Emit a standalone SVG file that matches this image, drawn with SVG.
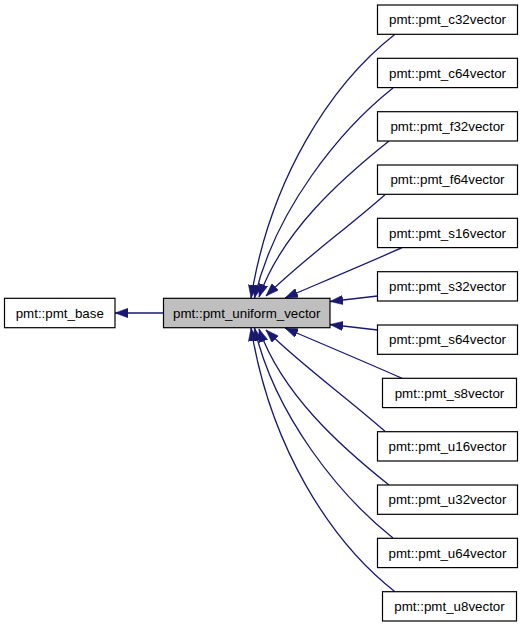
<svg xmlns="http://www.w3.org/2000/svg" width="523" height="627" viewBox="0 0 523 627">
<style>
.box{fill:#ffffff;stroke:#000000;stroke-width:1.2}
.cur{fill:#bfbfbf;stroke:#000000;stroke-width:1.2}
.lbl{font-family:"Liberation Sans",Arial,sans-serif;font-size:13.33px;fill:#000000;text-anchor:middle}
.edge{fill:none;stroke:#191970;stroke-width:1.3;marker-end:url(#arr)}
</style>
<defs>
<marker id="arr" markerUnits="userSpaceOnUse" viewBox="0 0 13 9.4" markerWidth="13" markerHeight="9.4" refX="13" refY="4.7" orient="auto">
<path d="M0,0 L13,4.7 L0,9.4 Z" fill="#191970" stroke="#191970" stroke-width="0.5"/>
</marker>
</defs>
<rect width="523" height="627" fill="#ffffff"/>
<g id="edges">
<path class="edge" d="M163.5,313 L115,313"/>
<path class="edge" d="M395,34.3 C330,85 270,180 251,298"/>
<path class="edge" d="M393,88 C340,130 275,210 254.5,298"/>
<path class="edge" d="M389,141 C340,180 282,232 259,297"/>
<path class="edge" d="M385,194.7 C345,230 300,262 266,296"/>
<path class="edge" d="M402,247.7 C370,262 320,283 285,298"/>
<path class="edge" d="M377.5,296 L330,301.5"/>
<path class="edge" d="M377.5,330 L330,324.5"/>
<path class="edge" d="M402,378.3 C370,364 320,343 285,328"/>
<path class="edge" d="M385,431.3 C345,396 300,364 266,330"/>
<path class="edge" d="M389,485 C340,446 282,394 259,329"/>
<path class="edge" d="M393,538 C340,496 275,416 254.5,328"/>
<path class="edge" d="M395,591.7 C330,541 270,446 251,328"/>
</g>
<g id="pmt_base"><rect class="box" x="4.5" y="298.3" width="110.5" height="29.4"/><text class="lbl" x="59.75" y="317.7">pmt::pmt_base</text></g>
<g id="pmt_uniform_vector"><rect class="cur" x="163.5" y="298.3" width="166.5" height="29.4"/><text class="lbl" x="246.75" y="317.7">pmt::pmt_uniform_vector</text></g>
<g id="pmt_c32vector"><rect class="box" x="377.5" y="5" width="140" height="29.3"/><text class="lbl" x="447.5" y="24.4">pmt::pmt_c32vector</text></g>
<g id="pmt_c64vector"><rect class="box" x="377.5" y="58.3" width="140" height="29.3"/><text class="lbl" x="447.5" y="77.7">pmt::pmt_c64vector</text></g>
<g id="pmt_f32vector"><rect class="box" x="377.5" y="111.7" width="140" height="29.3"/><text class="lbl" x="447.5" y="131.1">pmt::pmt_f32vector</text></g>
<g id="pmt_f64vector"><rect class="box" x="377.5" y="165" width="140" height="29.3"/><text class="lbl" x="447.5" y="184.4">pmt::pmt_f64vector</text></g>
<g id="pmt_s16vector"><rect class="box" x="377.5" y="218.3" width="140" height="29.3"/><text class="lbl" x="447.5" y="237.7">pmt::pmt_s16vector</text></g>
<g id="pmt_s32vector"><rect class="box" x="377.5" y="271.7" width="140" height="29.3"/><text class="lbl" x="447.5" y="291.1">pmt::pmt_s32vector</text></g>
<g id="pmt_s64vector"><rect class="box" x="377.5" y="325" width="140" height="29.3"/><text class="lbl" x="447.5" y="344.4">pmt::pmt_s64vector</text></g>
<g id="pmt_s8vector"><rect class="box" x="382.5" y="378.3" width="134" height="29.3"/><text class="lbl" x="449.5" y="397.7">pmt::pmt_s8vector</text></g>
<g id="pmt_u16vector"><rect class="box" x="377.5" y="431.7" width="140" height="29.3"/><text class="lbl" x="447.5" y="451.1">pmt::pmt_u16vector</text></g>
<g id="pmt_u32vector"><rect class="box" x="377.5" y="485" width="140" height="29.3"/><text class="lbl" x="447.5" y="504.4">pmt::pmt_u32vector</text></g>
<g id="pmt_u64vector"><rect class="box" x="377.5" y="538.3" width="140" height="29.3"/><text class="lbl" x="447.5" y="557.7">pmt::pmt_u64vector</text></g>
<g id="pmt_u8vector"><rect class="box" x="382.5" y="591.7" width="134" height="29.3"/><text class="lbl" x="449.5" y="611.1">pmt::pmt_u8vector</text></g>
</svg>
